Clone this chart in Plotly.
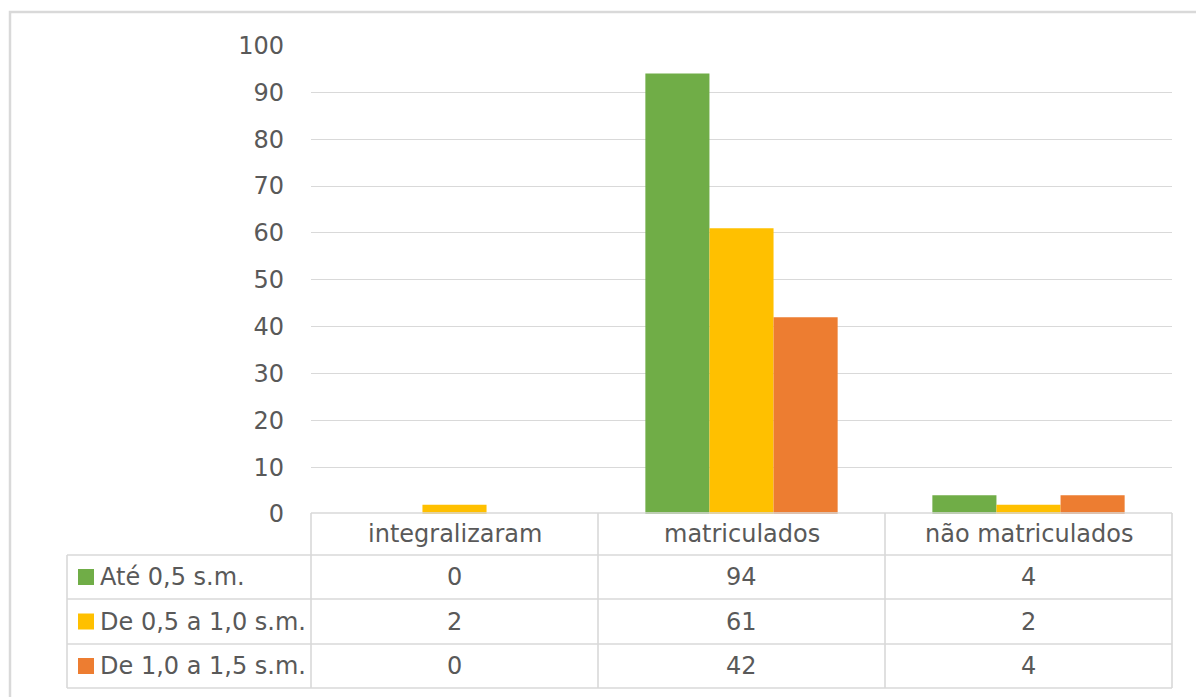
import plotly.graph_objects as go

categories = ["integralizaram", "matriculados", "não matriculados"]
series_names = ["Até 0,5 s.m.", "De 0,5 a 1,0 s.m.", "De 1,0 a 1,5 s.m."]
ate_05 = [0, 94, 4]
de_05_10 = [2, 61, 2]
de_10_15 = [0, 42, 4]
y_ticks = [0, 10, 20, 30, 40, 50, 60, 70, 80, 90, 100]

series_values = [ate_05, de_05_10, de_10_15]
colors = ["#70AD47", "#FFC000", "#ED7D31"]

W, H = 1196, 697
def px(x):
    return x / W
def py(y):
    return 1 - y / H

FONT = "DejaVu Sans"
TXT = "#595959"
LINE = "#D9D9D9"
FS = 24

fig = go.Figure()
for name, vals, col in zip(series_names, series_values, colors):
    fig.add_trace(go.Bar(x=list(range(len(categories))), y=vals, name=name,
                         marker=dict(color=col, line=dict(width=0))))

PL, PR = 311, 1172
PT, PB = 45.5, 514
col_edges = [311, 598, 885, 1172]
row_edges = [513, 555, 599, 644, 688]
TL = 67

fig.update_layout(
    width=W, height=H, autosize=False,
    margin=dict(l=0, r=0, t=0, b=0, pad=0),
    paper_bgcolor="white", plot_bgcolor="white",
    barmode="group", bargap=0.33, bargroupgap=0,
    showlegend=False,
    font=dict(family=FONT, color=TXT, size=FS),
    xaxis=dict(domain=[px(PL), px(PR)], range=[-0.5, 2.5], showticklabels=False,
               showgrid=False, zeroline=False, showline=False, fixedrange=True,
               automargin=False),
    yaxis=dict(domain=[py(PB), py(PT)], range=[0, 100], tickvals=y_ticks,
               showgrid=True, gridcolor=LINE, gridwidth=1.3, zeroline=False,
               showline=False, ticks="", ticklabelstandoff=26, automargin=False,
               tickfont=dict(family=FONT, color=TXT, size=FS)),
)

shapes = []
lw = 1.6
# outer chart border
shapes.append(dict(type="rect", xref="paper", yref="paper",
                   x0=px(10), x1=px(1215), y0=py(715), y1=py(12),
                   line=dict(color=LINE, width=2.5), fillcolor="rgba(0,0,0,0)", layer="below"))
# data table grid
shapes.append(dict(type="line", xref="paper", yref="paper", x0=px(PL), x1=px(PR),
                   y0=py(row_edges[0]), y1=py(row_edges[0]), line=dict(color=LINE, width=lw)))
for r in row_edges[1:]:
    shapes.append(dict(type="line", xref="paper", yref="paper", x0=px(TL), x1=px(PR),
                       y0=py(r), y1=py(r), line=dict(color=LINE, width=lw)))
shapes.append(dict(type="line", xref="paper", yref="paper", x0=px(TL), x1=px(TL),
                   y0=py(row_edges[1]), y1=py(row_edges[-1]), line=dict(color=LINE, width=lw)))
for c in col_edges:
    shapes.append(dict(type="line", xref="paper", yref="paper", x0=px(c), x1=px(c),
                       y0=py(row_edges[0]), y1=py(row_edges[-1]), line=dict(color=LINE, width=lw)))

annotations = []
for i, cat in enumerate(categories):
    cx = (col_edges[i] + col_edges[i + 1]) / 2
    cy = (row_edges[0] + row_edges[1]) / 2
    annotations.append(dict(x=px(cx), y=py(cy), xref="paper", yref="paper", text=cat,
                            showarrow=False, xanchor="center", yanchor="middle",
                            font=dict(family=FONT, color=TXT, size=FS)))
for r, (name, vals, col) in enumerate(zip(series_names, series_values, colors)):
    cy = (row_edges[r + 1] + row_edges[r + 2]) / 2
    shapes.append(dict(type="rect", xref="paper", yref="paper",
                       x0=px(78), x1=px(94), y0=py(cy + 8), y1=py(cy - 8),
                       fillcolor=col, line=dict(width=0)))
    annotations.append(dict(x=px(98), y=py(cy), xref="paper", yref="paper", text=name,
                            showarrow=False, xanchor="left", yanchor="middle",
                            font=dict(family=FONT, color=TXT, size=FS)))
    for i, v in enumerate(vals):
        cx = (col_edges[i] + col_edges[i + 1]) / 2
        annotations.append(dict(x=px(cx), y=py(cy), xref="paper", yref="paper", text=str(v),
                                showarrow=False, xanchor="center", yanchor="middle",
                                font=dict(family=FONT, color=TXT, size=FS)))

fig.update_layout(shapes=shapes, annotations=annotations)

post = (
    "var de=document.documentElement, b=document.body;"
    "de.style.margin='0';de.style.padding='0';de.style.overflow='hidden';"
    "b.style.margin='0';b.style.padding='0';b.style.overflow='hidden';"
    "var g=document.getElementById('{plot_id}');"
    "g.style.position='fixed';g.style.left='0px';g.style.top='0px';"
)
fig.write_html("out.html", config={"displayModeBar": False}, post_script=post)
